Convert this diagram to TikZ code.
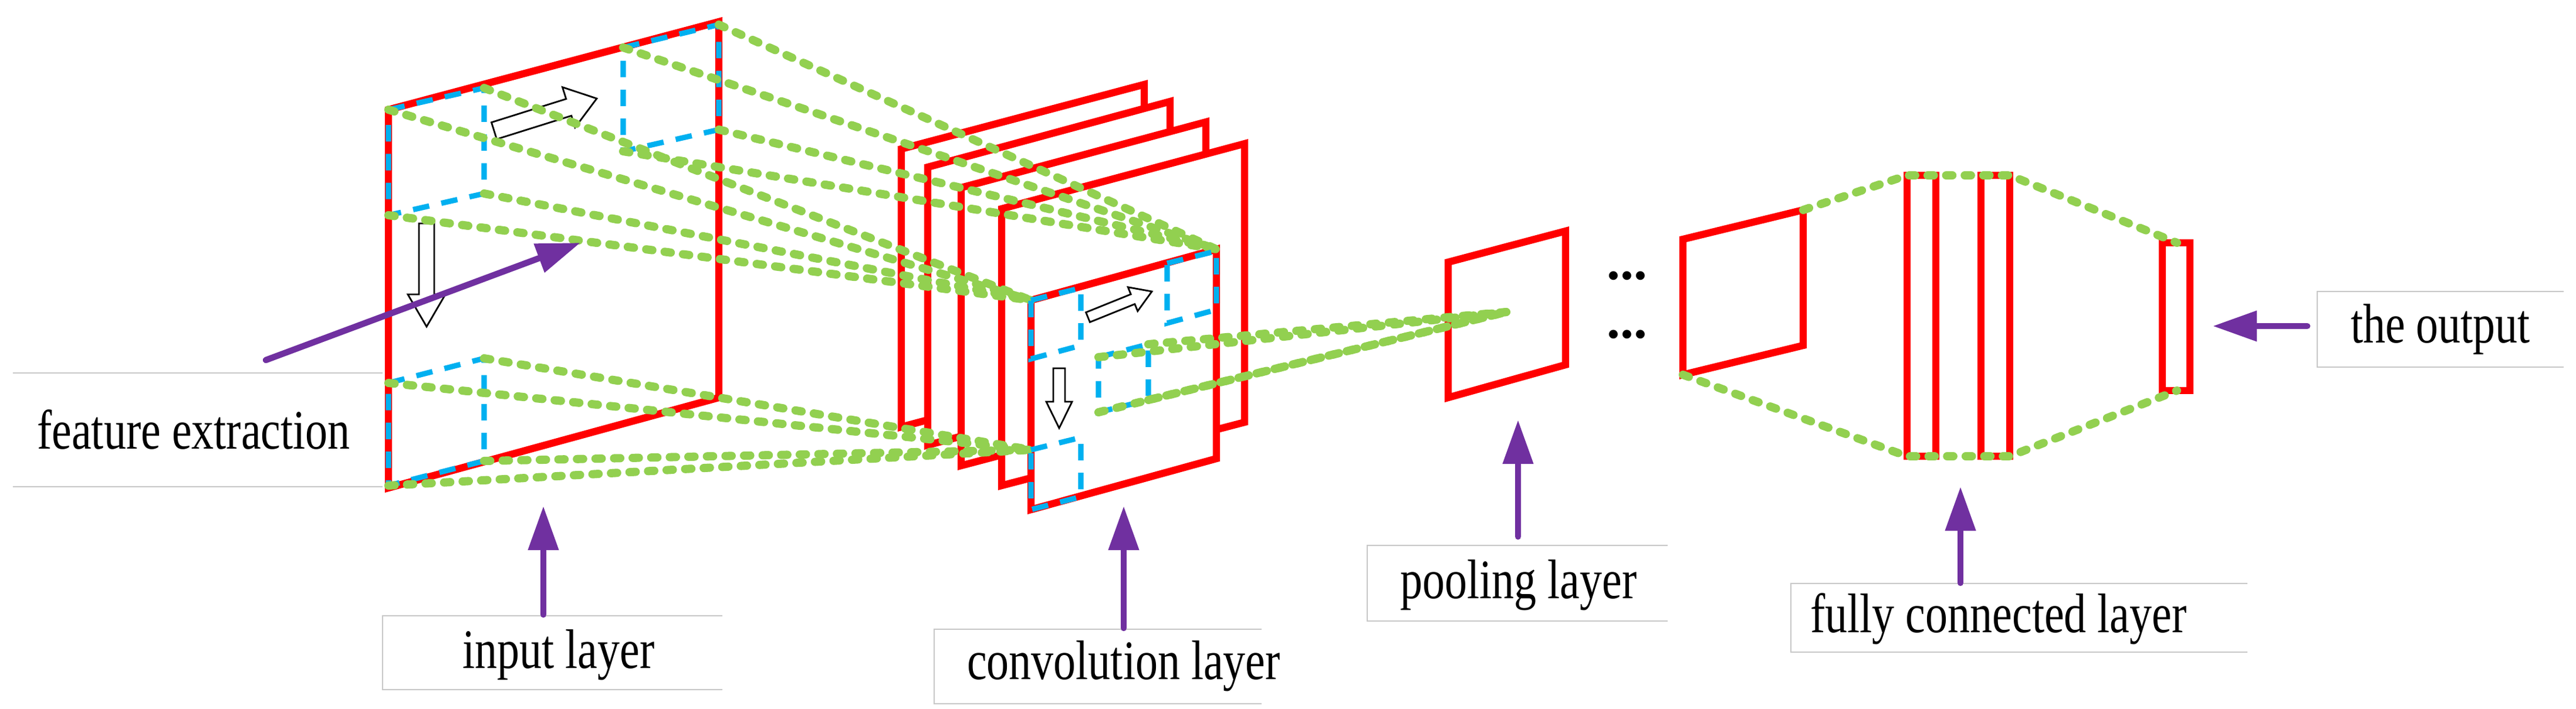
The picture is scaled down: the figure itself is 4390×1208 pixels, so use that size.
\documentclass[tikz,border=0pt]{standalone}
\usepackage{fontspec}
\setmainfont{Liberation Serif}
\usetikzlibrary{calc,arrows.meta}
\definecolor{cred}{RGB}{255,0,0}
\definecolor{cblue}{RGB}{0,176,240}
\definecolor{cgreen}{RGB}{146,208,80}
\definecolor{cpurple}{RGB}{112,48,160}
\tikzset{
  frame/.style={draw=cred,line width=3.5pt,fill=white,line join=miter},
  win/.style={draw=cblue,line width=2.6pt,dash pattern=on 8pt off 6pt},
  gl/.style={draw=cgreen,line width=4pt,line cap=round,dash pattern=on 3pt off 6pt},
  parrow/.style={draw=cpurple,line width=3pt,line cap=round,-{Triangle[length=0.75cm,width=0.5cm]}},
  hol/.style={draw=black,line width=0.8pt,fill=white},
  lab/.style={font=\fontsize{27}{30}\selectfont,inner sep=0pt},
  box/.style={draw=black!22,line width=0.8pt}
}
\newcommand{\hollow}[5]{% start, end, shaft half, head half, head length
  \coordinate (ha) at (#1); \coordinate (hb) at (#2);
  \coordinate (hh) at ($(hb)!#5!(ha)$);
  \draw[hol] ($(ha)!#3!90:(hb)$) -- ($(hh)!#3!90:(hb)$) -- ($(hh)!#4!90:(hb)$) -- (hb)
    -- ($(hh)!#4!-90:(hb)$) -- ($(hh)!#3!-90:(hb)$) -- ($(ha)!#3!-90:(hb)$) -- cycle;}
\newcommand{\lbl}[2]{\scalebox{0.8}[1]{#2}}
\begin{document}
\begin{tikzpicture}[x=0.01cm,y=-0.01cm]
\useasboundingbox (0,0) rectangle (4390,1208);
% ---- coordinates
\coordinate (iTL) at (662,187); \coordinate (iTR) at (1225,37);
\coordinate (iBR) at (1225,678); \coordinate (iBL) at (662,832);
\coordinate (a1) at (662,187); \coordinate (a2) at (825,150); \coordinate (a3) at (825,330); \coordinate (a4) at (662,367);
\coordinate (b1) at (1062,81); \coordinate (b2) at (1225,42); \coordinate (b3) at (1225,221); \coordinate (b4) at (1062,258);
\coordinate (c1) at (662,653); \coordinate (c2) at (825,611); \coordinate (c3) at (825,786); \coordinate (c4) at (662,828);
\coordinate (fTL) at (1757,512); \coordinate (fTR) at (2073,425);
\coordinate (fBR) at (2073,782); \coordinate (fBL) at (1757,869);
\coordinate (d1) at (1757,512); \coordinate (d2) at (1842,491); \coordinate (d3) at (1842,589); \coordinate (d4) at (1757,612);
\coordinate (e1) at (1989,449); \coordinate (e2) at (2073,428); \coordinate (e3) at (2073,528); \coordinate (e4) at (1989,551);
\coordinate (m1) at (1872,609); \coordinate (m2) at (1957,587); \coordinate (m3) at (1957,682); \coordinate (m4) at (1872,703);
\coordinate (g1) at (1757,767); \coordinate (g2) at (1842,746); \coordinate (g3) at (1842,847); \coordinate (g4) at (1757,869);
\coordinate (pc) at (2567,532);
% ---- input layer
\draw[frame] (iTL) -- (iTR) -- (iBR) -- (iBL) -- cycle;
\draw[win] (a1) -- (a2) -- (a3) -- (a4) -- cycle;
\draw[win] (b1) -- (b2) -- (b3) -- (b4) -- cycle;
\draw[win] (c1) -- (c2) -- (c3) -- (c4) -- cycle;
\hollow{842,223}{1017,168}{0.15cm}{0.36cm}{0.5cm}
\hollow{727,381}{727,557}{0.13cm}{0.32cm}{0.55cm}
% ---- conv stack
\draw[frame] (1536,254) -- (1950,144) -- (1950,618) -- (1536,728) -- cycle;
\draw[frame] (1581,285) -- (1994,173) -- (1994,650) -- (1581,759) -- cycle;
\draw[frame] (1638,320) -- (2055,208) -- (2055,684) -- (1638,794) -- cycle;
\draw[frame] (1707,356) -- (2121,245) -- (2121,720) -- (1707,828) -- cycle;
\draw[frame] (fTL) -- (fTR) -- (fBR) -- (fBL) -- cycle;
\foreach \p in {a1,a2,a3,a4} \draw[gl] (\p) -- (fTL);
\foreach \p in {b1,b2,b3,b4} \draw[gl] (\p) -- (fTR);
\foreach \p in {c1,c2,c3,c4} \draw[gl] (\p) -- (g1);
\draw[win] (d1) -- (d2) -- (d3) -- (d4) -- cycle;
\draw[win] (e1) -- (e2) -- (e3) -- (e4) -- cycle;
\draw[win] (m1) -- (m2) -- (m3) -- (m4) -- cycle;
\draw[win] (g1) -- (g2) -- (g3) -- (g4) -- cycle;
\hollow{1854,541}{1963,497}{0.09cm}{0.22cm}{0.35cm}
\hollow{1805,628}{1805,730}{0.1cm}{0.22cm}{0.45cm}
% ---- pooling
\coordinate (pTL) at (2468,447); \coordinate (pTR) at (2668,394);
\coordinate (pBR) at (2668,622); \coordinate (pBL) at (2468,678);
\draw[frame] (pTL) -- (pTR) -- (pBR) -- (pBL) -- cycle;
\foreach \p in {m1,m2,m3,m4} \draw[gl] (\p) -- (pc);
\node[font=\fontsize{26}{28}\selectfont\bfseries] (dots1) at (2773,470) {...};
\node[font=\fontsize{26}{28}\selectfont\bfseries] (dots2) at (2773,570) {...};
% ---- last map
\coordinate (qTL) at (2868,408); \coordinate (qTR) at (3073,358);
\coordinate (qBR) at (3073,589); \coordinate (qBL) at (2868,639);
\draw[frame] (qTL) -- (qTR) -- (qBR) -- (qBL) -- cycle;
% ---- FC bars
\draw[frame] (3250,299) rectangle (3299,778);
\draw[frame] (3376,299) rectangle (3425,778);
\draw[frame] (3685,414) rectangle (3732,666);
\coordinate (f1t) at (3250,299); \coordinate (f1b) at (3250,778);
\coordinate (f2t) at (3425,299); \coordinate (f2b) at (3425,778);
\coordinate (ot) at (3710,414); \coordinate (ob) at (3710,666);
\draw[gl] (qTR) -- (f1t) -- (f2t) -- (ot);
\draw[gl] (qBL) -- (f1b) -- (f2b) -- (ob);
% ---- label boxes
\draw[box] (22,636) -- (652,636); \draw[box] (22,830) -- (652,830);
\draw[box] (1231,1050) -- (652,1050) -- (652,1176) -- (1231,1176);
\draw[box] (2150,1073) -- (1592,1073) -- (1592,1200) -- (2150,1200);
\draw[box] (2842,930) -- (2330,930) -- (2330,1059) -- (2842,1059);
\draw[box] (3830,995) -- (3052,995) -- (3052,1112) -- (3830,1112);
\draw[box] (4369,497) -- (3949,497) -- (3949,626) -- (4369,626);
\node[lab] (tfe) at (330,733) {\lbl{}{feature extraction}};
\node[lab] (tin) at (952,1117) {\lbl{}{input layer}};
\node[lab] (tcv) at (1915,1136) {\lbl{}{convolution layer}};
\node[lab] (tpo) at (2588,998) {\lbl{}{pooling layer}};
\node[lab] (tfc) at (3406,1055) {\lbl{}{fully connected layer}};
\node[lab] (tou) at (4159,562) {\lbl{}{the output}};
% ---- purple arrows
\coordinate (s1) at (453,614); \coordinate (t1) at (989,414);
\coordinate (s2) at (926,1048); \coordinate (t2) at (926,863);
\coordinate (s3) at (1915,1071); \coordinate (t3) at (1915,863);
\coordinate (s4) at (2587,915); \coordinate (t4) at (2587,716);
\coordinate (s5) at (3341,994); \coordinate (t5) at (3341,830);
\coordinate (s6) at (3932,556); \coordinate (t6) at (3771,556);
\foreach \i in {1,...,6} \draw[parrow] (s\i) -- (t\i);
\end{tikzpicture}
\end{document}
